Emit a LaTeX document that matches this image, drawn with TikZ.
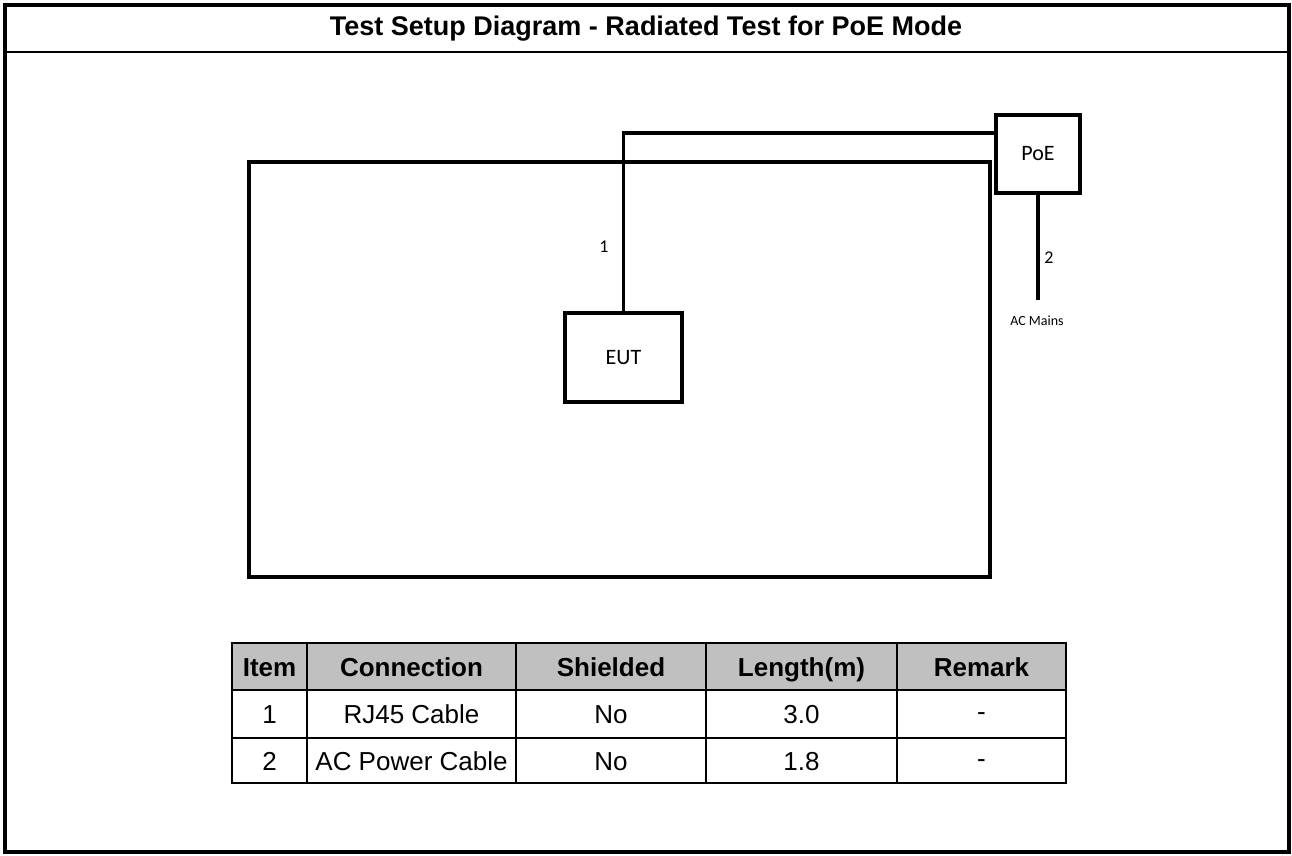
\documentclass[tikz,border=0pt]{standalone}
\usepackage{fontspec}
\setmainfont{Liberation Sans}
\newfontfamily\calfont{Carlito}
\usepackage{xcolor}
\usepackage{tikz}
\usetikzlibrary{positioning}
\definecolor{tblgray}{HTML}{C0C0C0}
\tikzset{
  unit/.style={draw=black,line width=3.5pt,fill=white,inner sep=0pt,font=\calfont\fontsize{22}{26}\selectfont},
  cable/.style={draw=black,line width=3.5pt},
  lbl/.style={inner sep=0pt,font=\calfont\fontsize{18}{21}\selectfont},
  hdr/.style={inner sep=0pt,anchor=base,font=\bfseries\fontsize{26}{30}\selectfont},
  cell/.style={inner sep=0pt,anchor=base,font=\fontsize{26}{30}\selectfont},
}

\begin{document}
\begin{tikzpicture}[x=1pt,y=-1pt]
  \useasboundingbox (0,0) rectangle (1292,855);
  % frame and title
  \draw[line width=3.5pt] (5,5) rectangle (1289,852);
  \draw[line width=2pt] (5,51.5) -- (1289,51.5);
  \node[inner sep=0pt,anchor=base,font=\bfseries\fontsize{27}{32}\selectfont] (title) at (646,35) {Test Setup Diagram - Radiated Test for PoE Mode};
  % chamber, units and cables
  \node[draw=black,line width=4pt,minimum width=741pt,minimum height=415pt,inner sep=0pt] (chamber) at (619.5,369.5) {};
  \node[unit,minimum width=84pt,minimum height=78pt] (poe) at (1038,154) {PoE};
  \node[unit,minimum width=117pt,minimum height=89pt] (eut) at (623.5,357.5) {EUT};
  \draw[cable] ([yshift=21pt]poe.west) -| (eut.north);
  \node[lbl] (n1) at (604,247) {1};
  \coordinate (acend) at (1038,300);
  \draw[cable] (poe.south) -- (acend);
  \node[lbl] (n2) at (1049,258) {2};
  \node[lbl,font=\calfont\fontsize{14}{16}\selectfont] (acm) at (1037,321) {AC Mains};
  % table
  \fill[tblgray] (232,643) rectangle (1066,690);
  \foreach \y in {690,738} { \draw[line width=1.8pt] (232,\y) -- (1066,\y); }
  \foreach \x in {307,516,706,897} { \draw[line width=1.8pt] (\x,643) -- (\x,783); }
  \draw[line width=2.5pt] (232,643) rectangle (1066,783);
  \foreach \x/\txt [count=\i] in {269.5/Item, 411.5/Connection, 611/Shielded, 801.5/Length(m), 981.5/Remark}
    \node[hdr] (h\i) at (\x,676) {\txt};
  \foreach \y/\a/\b/\c/\d/\e [count=\r] in {723.5/1/RJ45 Cable/No/3.0/-, 770/2/AC Power Cable/No/1.8/-} {
    \node[cell] (r\r a) at (269.5,\y) {\a};
    \node[cell] (r\r b) at (411.5,\y) {\b};
    \node[cell] (r\r c) at (611,\y) {\c};
    \node[cell] (r\r d) at (801.5,\y) {\d};
    \node[cell] (r\r e) at (981.5,\y-3) {\e};
  }
\end{tikzpicture}
\end{document}
